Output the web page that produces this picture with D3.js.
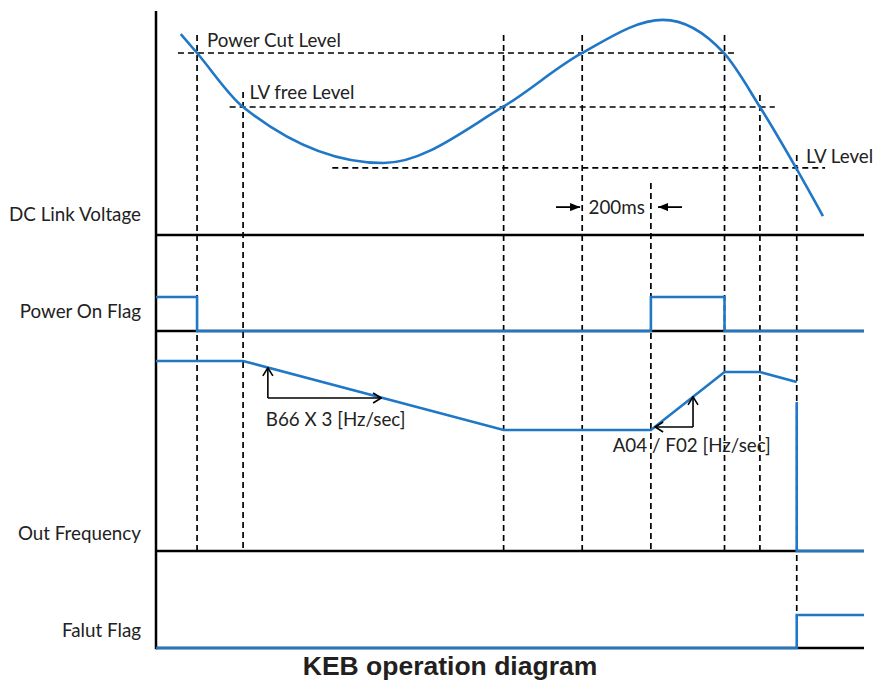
<!DOCTYPE html>
<html><head><meta charset="utf-8">
<script src="https://cdn.jsdelivr.net/npm/d3@7"></script>
<style>body{margin:0;background:#fff}</style>
</head><body>
<svg id="c" width="874" height="682"></svg>
<script>
// ---- data ----
const panelNames = ["DC Link Voltage", "Power On Flag", "Out Frequency", "Falut Flag"];
const dcTime = [3.5, 5.8, 12.3, 32.1, 49.0, 60.2, 71.6, 80.2, 85.3, 90.4, 94.2];
const dcVolt = [89.3, 80.9, 56.9, 32.0, 56.9, 80.9, 95.6, 80.9, 56.9, 29.8, 8.4];
const levelNames = ["Power Cut Level", "LV free Level", "LV Level"];
const levelValues = [80.9, 56.9, 29.8];
const levelFrom = [3.1, 10.4, 24.9];
const levelTo = [81.8, 87.4, 94.5];
const eventTimes = [5.8, 12.3, 49.1, 60.2, 69.9, 80.3, 85.3, 90.5];
const eventTopVolt = [88.9, 63.6, 88.9, 88.9, 23.1, 88.9, 62.2, 35.6];
const eventBottomPanel = ["freq", "freq", "freq", "freq", "freq", "freq", "freq", "fault"];
const powerTime = [0, 5.8, 69.9, 80.3, 100];
const powerVal = [1, 0, 1, 0, 0];
const freqTime = [0, 12.3, 49.1, 69.9, 80.3, 85.3, 90.5];
const freqVal = [95, 95, 60.5, 60.5, 89.5, 89.5, 84.5];
const freqAfterTime = [90.5, 90.5, 100];
const freqAfterVal = [74.5, 0, 0];
const faultTime = [0, 90.5, 100];
const faultVal = [0, 1, 1];
const title = "KEB operation diagram";

// ---- scales ----
const svg = d3.select("#c");
const x = d3.scaleLinear([0, 100], [156, 864]);
const yV = d3.scaleLinear([0, 100], [235, 10]);
const yP = d3.scaleLinear([0, 1], [331, 297]);
const yF = d3.scaleLinear([0, 100], [551, 351]);
const yE = d3.scaleLinear([0, 1], [648, 615]);
const blue = "#1f77c6";
const labelFont = "Lato, 'Open Sans', sans-serif";
const fs = 18.8;

// markers
const defs = svg.append("defs");
defs.append("marker").attr("id", "chev").attr("viewBox", "0 0 10 12")
  .attr("refX", 9).attr("refY", 6).attr("markerWidth", 10).attr("markerHeight", 12)
  .attr("markerUnits", "userSpaceOnUse").attr("orient", "auto")
  .append("path").attr("d", "M1,1 L9,6 L1,11").attr("fill", "none").attr("stroke", "#000").attr("stroke-width", 1.6);
defs.append("marker").attr("id", "tri").attr("viewBox", "0 0 10 8")
  .attr("refX", 10).attr("refY", 4).attr("markerWidth", 10).attr("markerHeight", 8)
  .attr("markerUnits", "userSpaceOnUse").attr("orient", "auto")
  .append("path").attr("d", "M0,0 L10,4 L0,8 Z").attr("fill", "#000");

// ---- dashed level lines ----
levelValues.forEach((v, i) => {
  svg.append("line").attr("x1", x(levelFrom[i])).attr("x2", x(levelTo[i]))
    .attr("y1", yV(v)).attr("y2", yV(v))
    .attr("stroke", "#000").attr("stroke-width", 1.7).attr("stroke-dasharray", "6,4");
});
// ---- dashed event lines ----
eventTimes.forEach((t, i) => {
  const bottom = eventBottomPanel[i] === "fault" ? yE(0.9) : yF(0);
  svg.append("line").attr("x1", x(t)).attr("x2", x(t))
    .attr("y1", yV(eventTopVolt[i])).attr("y2", bottom)
    .attr("stroke", "#000").attr("stroke-width", 1.7).attr("stroke-dasharray", "6,4");
});

// ---- baselines & axis ----
[yV(0), yP(0), yF(0), yE(0)].forEach(y => {
  svg.append("line").attr("x1", x(0)).attr("x2", x(100)).attr("y1", y).attr("y2", y)
    .attr("stroke", "#000").attr("stroke-width", 2.5);
});
svg.append("line").attr("x1", x(0)).attr("x2", x(0)).attr("y1", yV(99.6)).attr("y2", yE(0) + 1.2)
  .attr("stroke", "#000").attr("stroke-width", 2.5);

// ---- panel labels ----
const labelY = [yV(0) - 14, yP(0) - 13, yF(0) - 11, yE(0) - 11];
panelNames.forEach((n, i) => {
  svg.append("text").attr("x", x(0) - 15).attr("y", labelY[i]).attr("text-anchor", "end")
    .attr("font-family", labelFont).attr("font-size", fs).attr("fill", "#222").text(n);
});

// ---- signals ----
const lineV = d3.line().x(d => x(d[0])).y(d => yV(d[1])).curve(d3.curveMonotoneX);
svg.append("path").attr("d", lineV(dcTime.map((t, i) => [t, dcVolt[i]])))
  .attr("fill", "none").attr("stroke", blue).attr("stroke-width", 2.6);

const lineP = d3.line().x(d => x(d[0])).y(d => yP(d[1])).curve(d3.curveStepAfter);
svg.append("path").attr("d", lineP(powerTime.map((t, i) => [t, powerVal[i]])))
  .attr("fill", "none").attr("stroke", blue).attr("stroke-width", 2.6);

const lineF = d3.line().x(d => x(d[0])).y(d => yF(d[1]));
svg.append("path").attr("d", lineF(freqTime.map((t, i) => [t, freqVal[i]])))
  .attr("fill", "none").attr("stroke", blue).attr("stroke-width", 2.6);
svg.append("path").attr("d", lineF(freqAfterTime.map((t, i) => [t, freqAfterVal[i]])))
  .attr("fill", "none").attr("stroke", blue).attr("stroke-width", 2.6);

const lineE = d3.line().x(d => x(d[0])).y(d => yE(d[1])).curve(d3.curveStepAfter);
svg.append("path").attr("d", lineE(faultTime.map((t, i) => [t, faultVal[i]])))
  .attr("fill", "none").attr("stroke", blue).attr("stroke-width", 2.6);

// ---- level labels ----
const levelLabelT = [7.2, 13.2, 91.8];
const levelLabelDy = [-6, -8, -5];
levelNames.forEach((n, i) => {
  svg.append("text").attr("x", x(levelLabelT[i])).attr("y", yV(levelValues[i]) + levelLabelDy[i])
    .attr("font-family", labelFont).attr("font-size", fs).attr("fill", "#222").text(n);
});

// ---- 200ms annotation ----
const msY = yV(12.4);
svg.append("line").attr("x1", x(56.5)).attr("x2", x(59.9)).attr("y1", msY).attr("y2", msY)
  .attr("stroke", "#000").attr("stroke-width", 1.8).attr("marker-end", "url(#tri)");
svg.append("line").attr("x1", x(74.3)).attr("x2", x(70.9)).attr("y1", msY).attr("y2", msY)
  .attr("stroke", "#000").attr("stroke-width", 1.8).attr("marker-end", "url(#tri)");
svg.append("text").attr("x", x(61.1)).attr("y", msY + 6.5)
  .attr("font-family", labelFont).attr("font-size", fs).attr("fill", "#222").text("200ms");

// ---- slope annotations ----
function slope(tx, tEnd, vCorner, vTop) {
  svg.append("line").attr("x1", x(tx)).attr("x2", x(tx)).attr("y1", yF(vCorner)).attr("y2", yF(vTop))
    .attr("stroke", "#000").attr("stroke-width", 1.6).attr("marker-end", "url(#chev)");
  svg.append("line").attr("x1", x(tx)).attr("x2", x(tEnd)).attr("y1", yF(vCorner)).attr("y2", yF(vCorner))
    .attr("stroke", "#000").attr("stroke-width", 1.6).attr("marker-end", "url(#chev)");
}
slope(15.8, 31.8, 76.5, 91.6);
slope(75.85, 70.5, 62, 77.1);
svg.append("text").attr("x", x(15.5)).attr("y", yF(62.5))
  .attr("font-family", labelFont).attr("font-size", fs).attr("fill", "#222").text("B66 X 3 [Hz/sec]");
svg.append("text").attr("x", x(64.5)).attr("y", yF(49.5))
  .attr("font-family", labelFont).attr("font-size", fs).attr("fill", "#222").text("A04 / F02 [Hz/sec]");

// ---- title ----
svg.append("text").attr("x", 450).attr("y", 675).attr("text-anchor", "middle")
  .attr("font-family", "'Liberation Sans', Arial, sans-serif").attr("font-weight", "bold")
  .attr("font-size", 26.5).attr("fill", "#231f20").text(title);
</script>
</body></html>
